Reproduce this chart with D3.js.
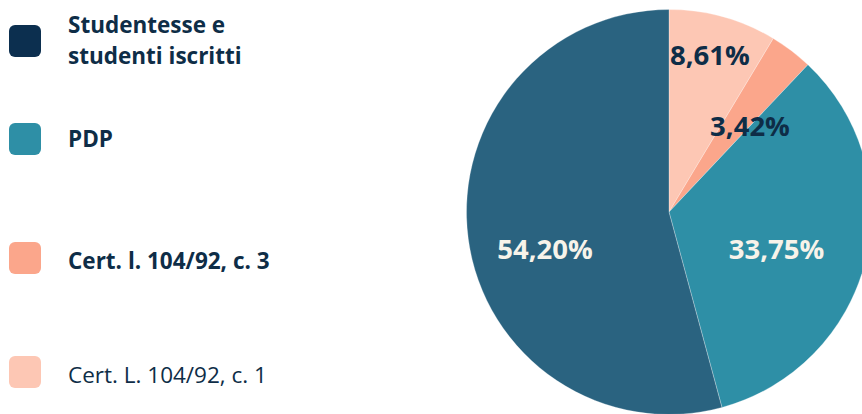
<!DOCTYPE html>
<html>
<head>
<meta charset="utf-8">
<script src="https://cdn.jsdelivr.net/npm/d3@7"></script>
<style>
  html, body { margin: 0; padding: 0; background: #ffffff; }
  svg { display: block; }
</style>
</head>
<body>
<svg id="chart" width="862" height="414"></svg>
<script>
// ---- data (legend order) ----
const categories = ["Studentesse e studenti iscritti", "PDP", "Cert. l. 104/92, c. 3", "Cert. L. 104/92, c. 1"];
const legendLines = [["Studentesse e", "studenti iscritti"], ["PDP"], ["Cert. l. 104/92, c. 3"], ["Cert. L. 104/92, c. 1"]];
const values = [54.20, 33.75, 3.42, 8.61];
const valueLabels = ["54,20%", "33,75%", "3,42%", "8,61%"];
const legendColors = ["#0c2f4f", "#2e8fa6", "#fba68b", "#fdc7b4"];
const sliceColors = ["#2a6380", "#2e8fa6", "#fba68b", "#fdc7b4"];
const legendBold = [true, true, true, false];
// pie drawn clockwise from 12 o'clock in this order
const pieOrder = [3, 2, 1, 0];

// ---- layout ----
const W = 862, H = 414;
const cx = 669, cy = 212, R = 202.5;
const textColor = "#0e2d47";
const labelFill = ["#f7f3ea", "#f7f3ea", textColor, textColor];
// label anchor (relative to pie centre, in units of radius)
const labelOffset = [[-0.612, 0.232], [0.531, 0.232], [0.40, -0.375], [0.202, -0.726]];
const legendTop = [25, 123, 242, 356];
const legendBaseline = [33, 147, 269, 383];
const FONT = "'Open Sans', 'Noto Sans', sans-serif";

const svg = d3.select("#chart");

const color = d3.scaleOrdinal().domain(categories).range(sliceColors);
const lcolor = d3.scaleOrdinal().domain(categories).range(legendColors);

const pieData = pieOrder.map(i => ({ cat: categories[i], value: values[i], idx: i }));
const pie = d3.pie().sort(null).value(d => d.value).startAngle(0).endAngle(2 * Math.PI);
const arc = d3.arc().innerRadius(0).outerRadius(R);

const g = svg.append("g").attr("transform", `translate(${cx},${cy})`);
g.selectAll("path.slice")
  .data(pie(pieData))
  .join("path")
  .attr("class", "slice")
  .attr("d", arc)
  .attr("fill", d => color(d.data.cat))
  .attr("stroke", "#ffffff")
  .attr("stroke-opacity", 0.35)
  .attr("stroke-width", 0.8);

// value labels
const rScale = d3.scaleLinear().domain([0, 1]).range([0, R]);
g.selectAll("text.val")
  .data(pie(pieData))
  .join("text")
  .attr("class", "val")
  .attr("x", d => rScale(labelOffset[d.data.idx][0]))
  .attr("y", d => rScale(labelOffset[d.data.idx][1]))
  .attr("text-anchor", "middle")
  .attr("font-family", FONT)
  .attr("font-weight", 700)
  .attr("font-size", 27.5)
  .attr("fill", d => labelFill[d.data.idx])
  .text(d => valueLabels[d.data.idx]);

// legend
const leg = svg.append("g");
categories.forEach((c, i) => {
  leg.append("rect")
    .attr("x", 9).attr("y", legendTop[i])
    .attr("width", 32).attr("height", 32)
    .attr("rx", 6).attr("ry", 6)
    .attr("fill", lcolor(c));
  const t = leg.append("text")
    .attr("x", 68).attr("y", legendBaseline[i])
    .attr("font-family", FONT)
    .attr("font-weight", legendBold[i] ? 700 : 400)
    .attr("font-size", 22.5)
    .attr("fill", textColor);
  legendLines[i].forEach((line, j) => {
    t.append("tspan").attr("x", 68).attr("dy", j === 0 ? 0 : 31).text(line);
  });
});
</script>
</body>
</html>
